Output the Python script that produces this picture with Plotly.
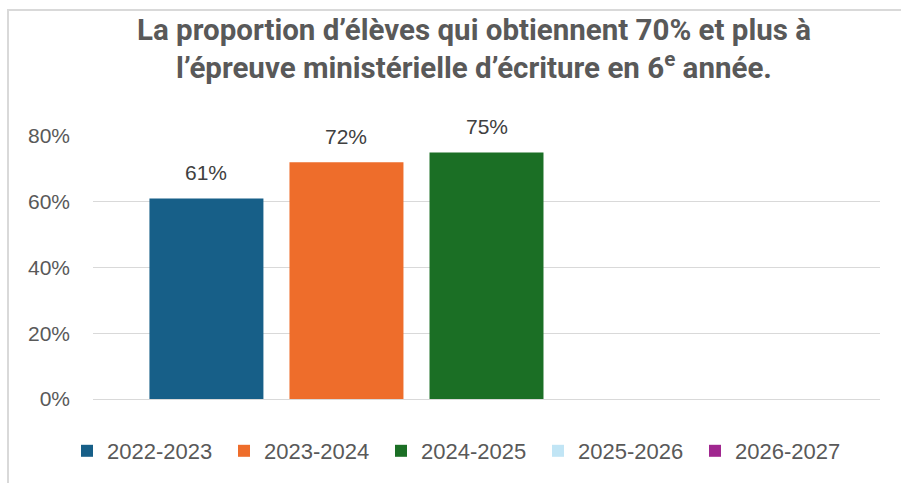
import plotly.graph_objects as go

# Data
years = ["2022-2023", "2023-2024", "2024-2025", "2025-2026", "2026-2027"]
values = [0.61, 0.72, 0.75, None, None]
colors = ["#175F88", "#EE6D2B", "#1B6F25", "#C1E5F5", "#A0278F"]

W, H = 901, 483
ML, MR, MT, MB = 93, 21, 136, 84
pw, ph = W - ML - MR, H - MT - MB

fig = go.Figure()
for yr, v, c in zip(years, values, colors):
    fig.add_trace(go.Bar(x=[yr], y=[v], name=yr,
                         marker=dict(color=c, line=dict(width=0)),
                         hoverinfo="skip"))
    if v is not None:
        fig.add_annotation(x=yr, y=v, text="{:.0%}".format(v),
                           showarrow=False, yanchor="bottom", yshift=12,
                           font=dict(size=21, color="#404040"))

# light frame around the chart
fig.add_shape(type="rect", xref="paper", yref="paper",
              x0=(8 - ML) / pw, x1=(W + 20 - ML) / pw,
              y0=-(MB + 20) / ph, y1=1 + (MT - 10) / ph,
              line=dict(color="#D9D9D9", width=2), layer="below")

fig.update_layout(
    width=W, height=H,
    margin=dict(l=ML, r=MR, t=MT, b=MB, autoexpand=False),
    paper_bgcolor="white", plot_bgcolor="white",
    font=dict(family="Liberation Sans, Arial, sans-serif", color="#595959"),
    title=dict(text="<b>La proportion d’élèves qui obtiennent 70% et plus à<br>"
                    "l’épreuve ministérielle d’écriture en 6<sup>e</sup> année.</b>",
               x=474 / W, xanchor="center", xref="container",
               y=1 - 40 / H, yanchor="top", yref="container",
               font=dict(family="Roboto, sans-serif", size=29.5, color="#595959")),
    barmode="overlay", bargap=0.186,
    showlegend=True,
    legend=dict(orientation="h", x=(67 - ML) / pw, xanchor="left",
                y=-(451 - (H - MB)) / ph, yanchor="middle",
                entrywidth=112, entrywidthmode="pixels",
                font=dict(size=22, color="#595959"), itemwidth=30),
)
fig.update_xaxes(showticklabels=False, showgrid=False, zeroline=False,
                 range=[-0.5 - 0.31, 4.5 + 0.31], fixedrange=True)
fig.update_yaxes(range=[0, 0.8], dtick=0.2, tickformat=".0%",
                 gridcolor="#D9D9D9", gridwidth=1, zeroline=True,
                 zerolinecolor="#D9D9D9", zerolinewidth=1,
                 ticklabelstandoff=22, tickfont=dict(size=21, color="#595959"))

fig.write_html("out.html", config={"displayModeBar": False},
               post_script="document.body.style.margin='0px';")
